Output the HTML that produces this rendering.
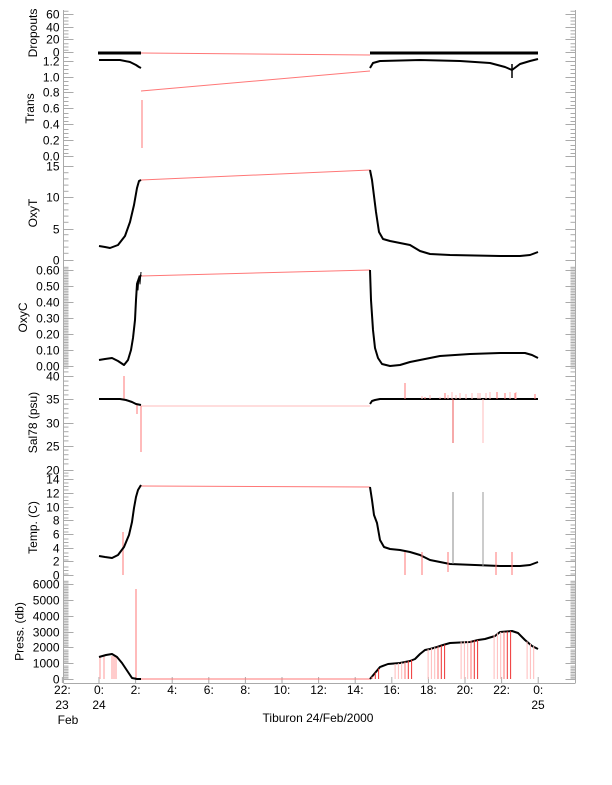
<!DOCTYPE html>
<html><head><meta charset="utf-8"><style>
html,body{margin:0;padding:0;background:#fff;}
svg{display:block;font-family:"Liberation Sans",sans-serif;}
</style></head><body>
<svg id="s" width="612" height="785" viewBox="0 0 612 785" xmlns="http://www.w3.org/2000/svg">
<g id="axes" stroke="#aaa" stroke-width="1" fill="none"></g>
<g id="lab" font-size="12" fill="#000"></g>
<g id="data" fill="none" stroke-linejoin="round"></g>
</svg>
<script>
const NS="http://www.w3.org/2000/svg";
const ax=document.getElementById('axes'),lab=document.getElementById('lab'),dat=document.getElementById('data');
function el(p,t,a,txt){const e=document.createElementNS(NS,t);for(const k in a)e.setAttribute(k,a[k]);if(txt!==undefined)e.textContent=txt;p.appendChild(e);return e;}
function line(p,x1,y1,x2,y2,c,w){el(p,'line',{x1,y1,x2,y2,stroke:c||'#aaa','stroke-width':w||1});}
const L=63.5,R=575.5;
const panels=[
 {t:10,b:56,ticks:[[60,14],[40,27],[20,39],[0,52]],lab:['60','40','20','0'],minor:4,title:'Dropouts'},
 {t:56,b:161,ticks:[[1.2,61],[1.0,77],[0.8,92],[0.6,108],[0.4,124],[0.2,140],[0,156]],lab:['1.2','1.0','0.8','0.6','0.4','0.2','0.0'],minor:4,title:'Trans'},
 {t:161,b:265,ticks:[[15,166],[10,197],[5,229],[0,260]],lab:['15','10','5','0'],minor:5,title:'OxyT'},
 {t:265,b:370,ticks:[[.6,270],[.5,286],[.4,302],[.3,318],[.2,334],[.1,350],[0,366]],lab:['0.60','0.50','0.40','0.30','0.20','0.10','0.00'],minor:10,title:'OxyC'},
 {t:370,b:475,ticks:[[40,376],[35,399],[30,423],[25,446],[20,470]],lab:['40','35','30','25','20'],minor:5,title:'Sal78 (psu)'},
 {t:475,b:580,ticks:[[14,479],[12,493],[10,507],[8,520],[6,534],[4,548],[2,561],[0,575]],lab:['14','12','10','8','6','4','2','0'],minor:4,title:'Temp. (C)'},
 {t:580,b:683,ticks:[[6000,584],[5000,600],[4000,616],[3000,632],[2000,647],[1000,663],[0,679]],lab:['6000','5000','4000','3000','2000','1000','0'],minor:10,title:'Press. (db)'}
];
function tw(s){let w=0;for(const c of s)w+=(c=='.'?3.3:6.7);return w;}
panels.forEach(p=>{
 line(ax,L,p.t,L,p.b);line(ax,R,p.t,R,p.b);
 const tk=p.ticks;const step=tk[1][1]-tk[0][1];
 let mw=0;
 for(let i=0;i<tk.length;i++){const y=tk[i][1]+0.5;
  line(ax,L,y,L+10,y);line(ax,R,y,R-10,y);
  el(lab,'text',{x:L-4,y:tk[i][1]+4.5,'text-anchor':'end'},p.lab[i]);
  mw=Math.max(mw,tw(p.lab[i]));
 }
 for(let i=-1;i<tk.length;i++){for(let j=1;j<p.minor;j++){const y=tk[0][1]+(i+j/p.minor)*step+0.5;if(y<p.t+1||y>p.b-1)continue;line(ax,L,y,L+5,y);line(ax,R,y,R-5,y);}}
 const cy=(p.t+p.b)/2;
 const tx=L-4-mw-9;
 el(lab,'text',{x:0,y:0,'text-anchor':'middle',transform:`translate(${tx},${cy}) rotate(-90)`},p.title);
});
line(ax,L,683.5,R,683.5);
const x0=99,ph=18.3;
const xl=['22:','0:','2:','4:','6:','8:','10:','12:','14:','16:','18:','20:','22:','0:'];
for(let i=0;i<14;i++){const x=x0+(i-1)*2*ph;line(ax,x,683,x,677);el(lab,'text',{x:x,y:694,'text-anchor':'middle'},xl[i]);}
el(lab,'text',{x:62,y:709,'text-anchor':'middle'},'23');
el(lab,'text',{x:99,y:709,'text-anchor':'middle'},'24');
el(lab,'text',{x:538,y:709,'text-anchor':'middle'},'25');
el(lab,'text',{x:68,y:724,'text-anchor':'middle'},'Feb');
el(lab,'text',{x:318,y:722,'text-anchor':'middle'},'Tiburon 24/Feb/2000');
function pl(pts,c,w){el(dat,'polyline',{points:pts,stroke:c,'stroke-width':w||2});}
const RED='#f77',PINK='#fbb';
pl('141,53 370,55',RED,1);
el(dat,'rect',{x:98,y:51.5,width:43,height:3,fill:'#000'});
el(dat,'rect',{x:370,y:51.5,width:168,height:3,fill:'#000'});
pl('141,91 370,71',RED,1);
line(dat,142,100,142,148,RED,1);
pl('99,60 120,60 130,62 136,65 139,67 141,68',"#000",2);
pl('370,68 373,63 380,61 420,60 460,61 490,63 505,67 512,70 520,64 530,61 538,59',"#000",2);
line(dat,512,64,512,78,'#000',1.5);
pl('141,180 370,170',RED,1);
pl('99,246 105,247 110,248 118,245 125,236 130,222 134,205 137,188 139,181 141,180',"#000",2);
pl('370,170 372,180 374,196 376,212 379,232 383,239 390,241 400,243 410,245 420,251 430,254 450,255 500,256 520,256 530,255 538,252',"#000",2);
pl('141,276 370,270',RED,1);
pl('99,360 105,359 112,358 118,361 124,365 128,360 131,350 133,338 135,320 136,300 137,284 139,278 141,275',"#000",2);
pl('136,298 137,282 138,290 139,276 140,284 141,272',"#000",1);
pl('370,270 371,300 373,330 375,348 378,358 382,364 390,366 400,365 410,362 420,360 430,358 440,356 470,354 500,353 525,353 532,355 538,358',"#000",2);
pl('141,406 370,406',PINK,1);
line(dat,141,406,141,452,RED,1);
line(dat,137,404,137,414,RED,1);
line(dat,124,376,124,400,PINK,2);
pl('99,399 120,399 126,400 132,402 136,404 141,405',"#000",2);
pl('370,404 372,401 375,400 380,399 538,399',"#000",2);
line(dat,453,399,453,443,'#e55',1);line(dat,483,399,483,443,PINK,1);
[[405,383],[422,396],[425,397],[430,395],[440,397],[445,393],[448,395],[452,392],[456,395],[460,393],[466,394],[472,393],[478,393],[480,393],[486,393],[490,392],[497,392],[505,393],[510,392],[515,393],[516,392],[535,394]].forEach(a=>line(dat,a[0],399,a[0],a[1],a[0]%2?RED:PINK,1));
pl('141,486 370,487',RED,1);
line(dat,123,532,123,575,PINK,2);
pl('99,556 105,557 112,558 118,555 124,547 129,535 132,522 134,508 136,497 138,490 141,485',"#000",2);
pl('370,487 372,500 374,515 377,523 380,540 384,547 390,549 400,550 410,552 420,555 430,560 450,564 500,566 520,566 530,565 538,562',"#000",2);
line(dat,453,492,453,564,'#888',1);line(dat,483,492,483,566,'#999',1);
[[405,575],[422,575],[448,572],[496,575],[512,575]].forEach(a=>line(dat,a[0],552,a[0],a[1],RED,1));
pl('141,679 370,679',RED,1);
line(dat,136,589,136,679,RED,1);
[100,104,112,114,116].forEach(x=>line(dat,x,656,x,679,PINK,1.5));
pl('99,657 106,655 112,654 117,657 122,663 128,672 132,678 137,679 141,679',"#000",2);
pl('370,679 375,673 380,667 388,664 400,663 410,661 415,659 420,654 425,650 430,649 437,647 443,645 450,643 470,642 478,640 485,639 495,636 500,632 512,631 518,633 525,640 532,646 538,649',"#000",2);
for(let x=372;x<536;x+=3.3){const t=(x*7)%11;if(t<4)continue;const c=t>9?'#e33':(t>7?RED:PINK);
 let y;const pts=[[370,679],[380,667],[400,663],[415,659],[425,650],[450,643],[485,639],[500,632],[512,631],[525,640],[538,649]];
 for(let i=0;i<pts.length-1;i++){if(x>=pts[i][0]&&x<=pts[i+1][0]){y=pts[i][1]+(pts[i+1][1]-pts[i][1])*(x-pts[i][0])/(pts[i+1][0]-pts[i][0]);}}
 if(y)line(dat,x,y,x,679,c,1);}
</script>
</body></html>
